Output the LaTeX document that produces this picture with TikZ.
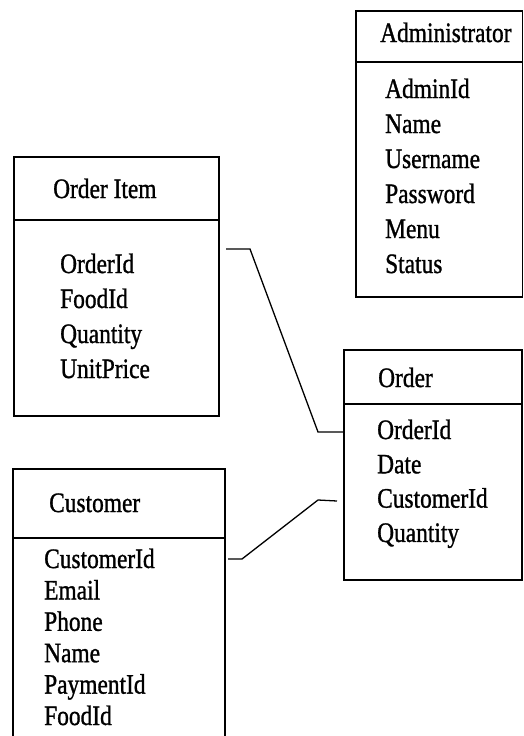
\documentclass[tikz,border=0pt]{standalone}
\usepackage{fontspec}
\setmainfont{Liberation Serif}[BoldFont=Liberation Serif, BoldFeatures={FakeBold=1.2}]
\newcommand\vst[1]{\scalebox{1}[1.2]{#1}}
\begin{document}
\begin{tikzpicture}[x=1pt,y=-1pt,
  box/.style={draw, line width=1.7pt, rectangle, inner sep=0pt, anchor=north west},
  txt/.style={anchor=base west, inner sep=0pt, font=\fontsize{23.4}{28}\selectfont\bfseries},
  link/.style={line width=1.3pt}]
\useasboundingbox (0,0) rectangle (523,736);
\clip (0,0) rectangle (523,736);
% Administrator
\node[box, minimum width=166.5pt, minimum height=51pt] (admH) at (355,10) {};
\node[box, minimum width=166.5pt, minimum height=235pt] (admB) at (355,61) {};
\node[txt] (admT) at (380,42) {\vst{Administrator}};
\foreach \t [count=\i from 0] in {AdminId,Name,Username,Password,Menu,Status}
  \node[txt] (adm\i) at (385,98+35*\i) {\vst{\t}};
% Order Item
\node[box, minimum width=205pt, minimum height=63pt] (oiH) at (13,156) {};
\node[box, minimum width=205pt, minimum height=196pt] (oiB) at (13,219) {};
\node[txt] (oiT) at (53,198) {\vst{Order Item}};
\foreach \t [count=\i from 0] in {OrderId,FoodId,Quantity,UnitPrice}
  \node[txt] (oi\i) at (60,273+35*\i) {\vst{\t}};
% Order
\node[box, minimum width=178pt, minimum height=54pt] (ordH) at (343,349) {};
\node[box, minimum width=178pt, minimum height=176pt] (ordB) at (343,403) {};
\node[txt] (ordT) at (378,387) {\vst{Order}};
\foreach \t [count=\i from 0] in {OrderId,Date,CustomerId,Quantity}
  \node[txt] (ord\i) at (377,439+34.3*\i) {\vst{\t}};
% Customer
\node[box, minimum width=212pt, minimum height=69pt] (cuH) at (12,468) {};
\node[box, minimum width=212pt, minimum height=240pt] (cuB) at (12,537) {};
\node[txt] (cuT) at (49,512) {\vst{Customer}};
\foreach \t [count=\i from 0] in {CustomerId,Email,Phone,Name,PaymentId,FoodId}
  \node[txt] (cu\i) at (44,568+31.4*\i) {\vst{\t}};
% connectors
\coordinate (c1a) at (226,249);
\coordinate (c1b) at (250,249);
\coordinate (c1c) at (318,432);
\coordinate (c1d) at (343,432);
\draw[link] (c1a) -- (c1b) -- (c1c) -- (c1d);
\coordinate (c2a) at (228,559);
\coordinate (c2b) at (242,559);
\coordinate (c2c) at (318,500);
\coordinate (c2d) at (337,501);
\draw[link] (c2a) -- (c2b) -- (c2c) -- (c2d);
\end{tikzpicture}
\end{document}
